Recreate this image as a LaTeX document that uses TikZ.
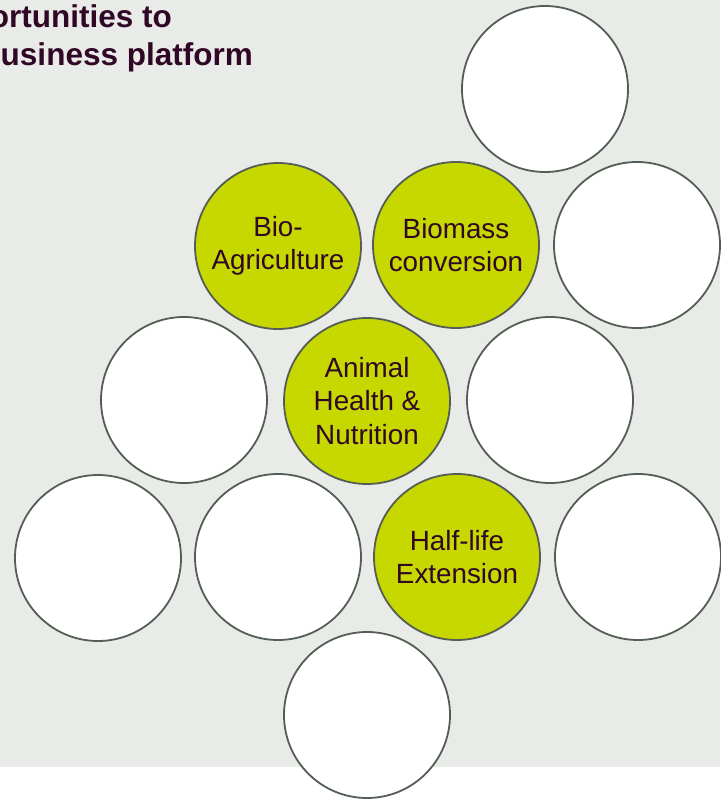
\documentclass[tikz,border=0pt]{standalone}
\usepackage{fontspec}
\setmainfont{Liberation Sans}
\definecolor{bgc}{RGB}{233,235,232}
\definecolor{ringc}{RGB}{84,94,84}
\definecolor{limec}{RGB}{199,216,0}
\definecolor{textc}{RGB}{48,8,38}
\tikzset{
  bubble/.style={circle, draw=ringc, line width=1.8pt, minimum size=166pt, inner sep=0pt,
    align=center, text=textc, font=\fontsize{27.8}{33.5}\selectfont},
  blank/.style={bubble, fill=white},
  lime/.style={bubble, fill=limec},
  headline/.style={anchor=base east, text=textc, font=\bfseries\fontsize{31.5}{37}\selectfont, inner sep=0pt},
}
\begin{document}
\begin{tikzpicture}[x=1pt,y=-1pt]
\useasboundingbox (0,0) rectangle (720,799);
\fill[bgc] (0,0) rectangle (720,767);
\node[headline] (t1) at (172,28) {ortunities to};
\node[headline] (t2) at (253,66) {usiness platform};
\node[blank] (c1) at (545,89) {};
\node[lime] (bioag) at (278,246) {Bio-\\Agriculture};
\node[lime] (biomass) at (456,245) {Biomass\\conversion};
\node[blank] (c4) at (637,245) {};
\node[blank] (c5) at (184,400) {};
\node[lime] (animal) at (367,401) {Animal\\Health \&\\Nutrition};
\node[blank] (c7) at (550,400) {};
\node[blank] (c8) at (98,558) {};
\node[blank] (c9) at (278,557) {};
\node[lime] (halflife) at (457,557) {Half-life\\Extension};
\node[blank] (c11) at (638,557) {};
\node[blank] (c12) at (367,715) {};
\end{tikzpicture}
\end{document}
